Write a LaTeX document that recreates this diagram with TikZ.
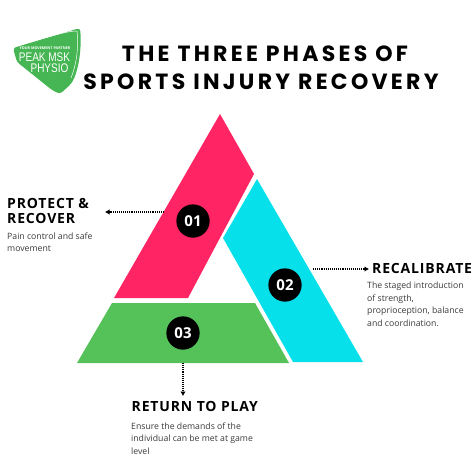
\documentclass[tikz,border=0pt]{standalone}
\usepackage{fontspec}
\setmainfont{Open Sans}
\newfontfamily\titlefont[LetterSpace=15]{Poppins}
\newfontfamily\headfont[LetterSpace=6]{Open Sans}
\newfontfamily\logofont[FakeStretch=0.8]{Liberation Sans}
\definecolor{pinkarm}{HTML}{FF2463}
\definecolor{cyanarm}{HTML}{06E0EA}
\definecolor{greenarm}{HTML}{55C159}
\definecolor{logogreen}{HTML}{45B653}
\definecolor{bodygrey}{HTML}{3A3A3A}
\usetikzlibrary{arrows.meta}
\tikzset{
  badge/.style={circle,fill=black,text=white,minimum size=33.3pt,inner sep=0pt,font=\fontsize{15}{15}\selectfont\bfseries},
  heading/.style={anchor=north west,inner sep=0pt,align=left,font=\headfont\fontsize{14}{14.2}\selectfont\bfseries},
  blurb/.style={anchor=north west,inner sep=0pt,align=left,text=bodygrey,font=\fontsize{8.7}{12.4}\selectfont},
  titleline/.style={inner sep=0pt,font=\titlefont\fontsize{22}{22}\selectfont\bfseries},
  logotext/.style={inner sep=0pt,text=white,font=\logofont\fontsize{12.5}{12.5}\selectfont},
  pointer/.style={densely dotted,line width=1.1pt,-{Latex[length=4.5pt,width=5.5pt]}}
}
\begin{document}
\begin{tikzpicture}[x=1pt,y=-1pt]
\useasboundingbox (0,0) rectangle (474,474);
% arms of the triangle
\fill[pinkarm] (220,114) -- (254,174) -- (188,298) -- (114,298) -- cycle;
\fill[cyanarm] (257,179) -- (363,362) -- (293,362) -- (223,238) -- cycle;
\fill[greenarm] (112,303) -- (255,303) -- (289,363) -- (77,363) -- cycle;
% logo
\fill[logogreen,rounded corners=3pt] (13,48) -- (80,28) .. controls (82,50) and (78,72) .. (71,84) -- (60,94) -- (52,90) -- (17,62) -- cycle;
\draw[white,line width=0.5pt] (40,39) .. controls (55,35) and (68,31) .. (77,31) .. controls (79,48) and (76,66) .. (71,78);
\node[inner sep=0pt,text=white,font=\fontsize{3.7}{4}\selectfont\bfseries] (tagline) at (45,48) {YOUR MOVEMENT PARTNER};
\node[logotext] (peak) at (44.5,57) {PEAK MSK};
\node[logotext] (physio) at (49.5,68) {PHYSIO};
% title
\node[titleline] (titlea) at (265,54) {THE THREE PHASES OF};
\node[titleline] (titleb) at (261,82) {SPORTS INJURY RECOVERY};
% badges
\node[badge] (one) at (193,221) {01};
\node[badge] (two) at (285,285) {02};
\node[badge] (three) at (183,333) {03};
% pointers
\coordinate (onestart) at (164,212);
\coordinate (oneend) at (105,212);
\coordinate (twostart) at (313,269);
\coordinate (twoend) at (369,269);
\coordinate (threestart) at (183,363);
\coordinate (threeend) at (183,396);
\draw[pointer] (onestart) -- (oneend);
\draw[pointer] (twostart) -- (twoend);
\draw[pointer] (threestart) -- (threeend);
% texts
\node[heading] (protect) at (7,198.5) {PROTECT \&\\RECOVER};
\node[blurb] (protectnote) at (7,232.5) {Pain control and safe\\movement};
\node[heading] (recal) at (372,263.5) {RECALIBRATE};
\node[blurb] (recalnote) at (367,282) {The staged introduction\\of strength,\\proprioception, balance\\and coordination.};
\node[heading] (play) at (131.5,401.5) {RETURN TO PLAY};
\node[blurb] (playnote) at (131,422.5) {Ensure the demands of the\\individual can be met at game\\level};
\end{tikzpicture}
\end{document}
